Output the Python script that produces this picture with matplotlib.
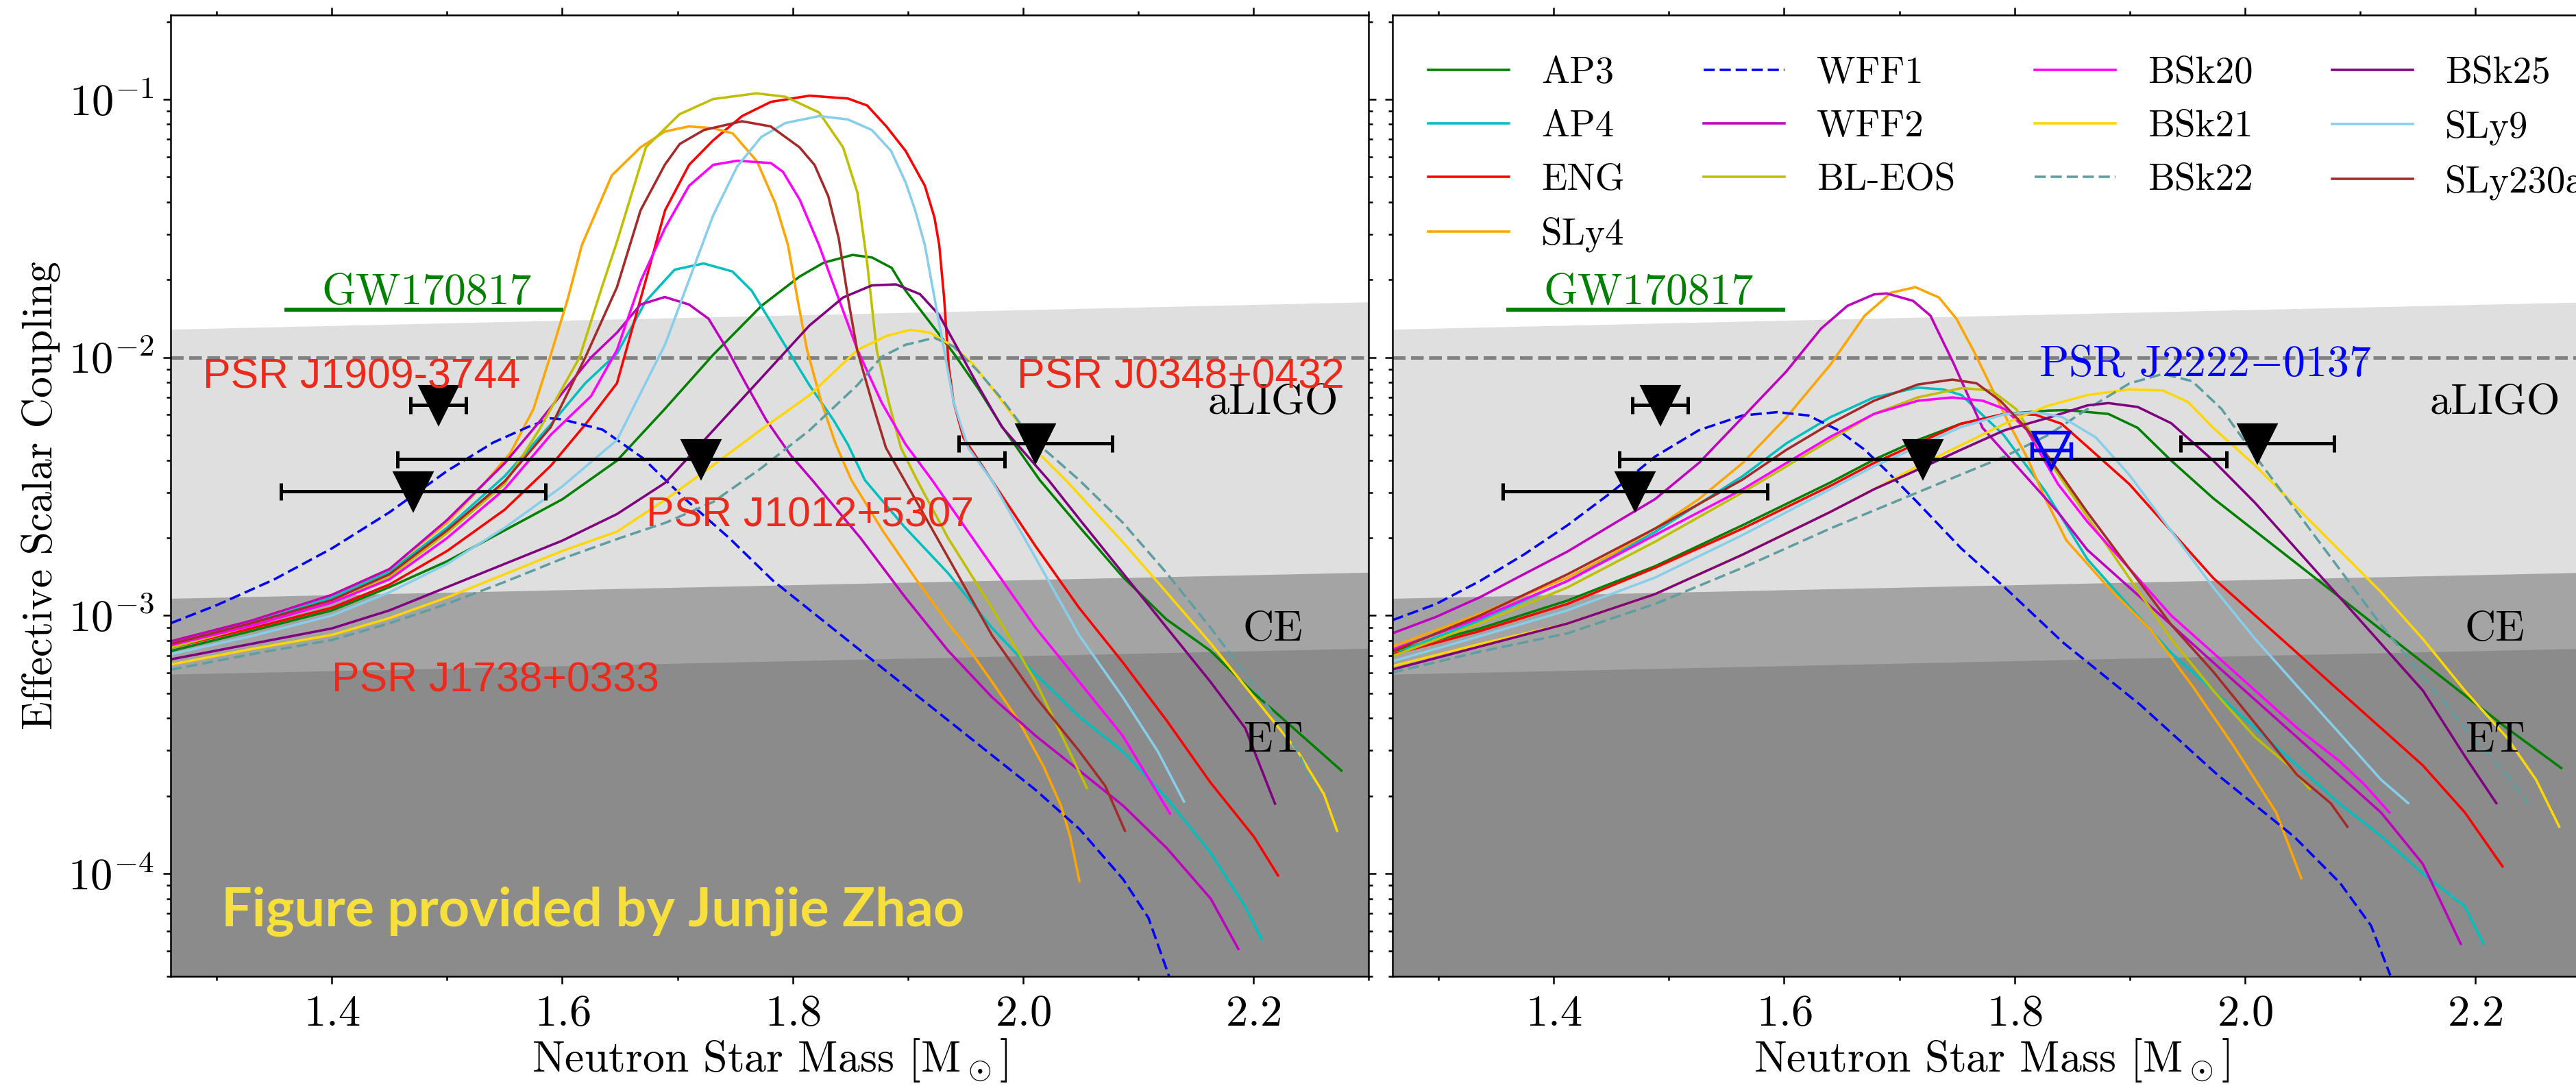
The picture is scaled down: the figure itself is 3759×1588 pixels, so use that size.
import numpy as np
import matplotlib.pyplot as plt
from matplotlib.ticker import MultipleLocator, LogLocator, NullFormatter

plt.rcParams['font.family'] = 'serif'
plt.rcParams['font.serif'] = ['cmr10']
plt.rcParams['mathtext.fontset'] = 'cm'
plt.rcParams['axes.formatter.use_mathtext'] = True

# ---- EOS curves: neutron star mass and log10 of the effective scalar coupling ----
eos_names = ['AP3', 'AP4', 'ENG', 'SLy4', 'WFF1', 'WFF2', 'BL-EOS',
             'BSk20', 'BSk21', 'BSk22', 'BSk25', 'SLy9', 'SLy230a']
eos_colors = ['green', 'c', 'r', 'orange', 'b', 'm', 'y',
              'fuchsia', 'gold', 'cadetblue', 'purple', 'skyblue', 'brown']
eos_dashed = [False, False, False, False, True, False, False,
              False, False, True, False, False, False]

# left panel
ap3_m_l = [1.26, 1.33, 1.40, 1.45, 1.50, 1.55, 1.60, 1.6475, 1.689, 1.731, 1.773, 1.806, 1.827, 1.852, 1.869, 1.886, 1.898, 1.919, 1.940, 1.961, 1.982, 2.0145, 2.0487, 2.0866, 2.1246, 2.1626, 2.2005, 2.2385, 2.2765]
ap3_c_l = [-3.138, -3.06, -2.98, -2.89, -2.79, -2.67, -2.55, -2.40, -2.20, -1.99, -1.80, -1.687, -1.633, -1.603, -1.613, -1.653, -1.741, -1.863, -1.985, -2.120, -2.269, -2.475, -2.655, -2.850, -3.015, -3.136, -3.301, -3.451, -3.601]
ap4_m_l = [1.26, 1.33, 1.40, 1.45, 1.50, 1.55, 1.59, 1.62, 1.6475, 1.6726, 1.6976, 1.7227, 1.7477, 1.7644, 1.7811, 1.7978, 1.8145, 1.8354, 1.848, 1.8627, 1.8968, 1.9348, 1.9727, 2.0107, 2.0487, 2.0866, 2.1246, 2.1626, 2.1929, 2.2074]
ap4_c_l = [-3.11, -3.03, -2.93, -2.83, -2.66, -2.46, -2.26, -2.10, -1.985, -1.782, -1.660, -1.636, -1.667, -1.741, -1.863, -1.985, -2.107, -2.242, -2.337, -2.475, -2.655, -2.835, -3.046, -3.226, -3.391, -3.526, -3.706, -3.917, -4.127, -4.255]
eng_m_l = [1.26, 1.33, 1.40, 1.45, 1.50, 1.55, 1.59, 1.62, 1.6475, 1.6726, 1.6893, 1.7101, 1.731, 1.7561, 1.7811, 1.8145, 1.848, 1.8647, 1.8814, 1.8981, 1.9148, 1.9231, 1.9273, 1.9315, 1.9356, 1.9398, 1.9482, 1.9727, 2.0107, 2.0487, 2.0866, 2.1246, 2.1626, 2.2005, 2.2214]
eng_c_l = [-3.125, -3.05, -2.97, -2.88, -2.75, -2.59, -2.42, -2.26, -2.10, -1.70, -1.43, -1.254, -1.159, -1.065, -1.010, -0.986, -0.997, -1.024, -1.105, -1.200, -1.335, -1.457, -1.565, -1.768, -2.039, -2.174, -2.310, -2.475, -2.730, -2.970, -3.181, -3.406, -3.646, -3.857, -4.007]
sly4_m_l = [1.26, 1.33, 1.40, 1.45, 1.50, 1.53, 1.555, 1.575, 1.59, 1.605, 1.617, 1.643, 1.668, 1.689, 1.71, 1.731, 1.748, 1.769, 1.785, 1.796, 1.804, 1.8125, 1.825, 1.8375, 1.851, 1.878, 1.908, 1.935, 1.954, 1.973, 1.996, 2.018, 2.033, 2.041, 2.049]
sly4_c_l = [-3.10, -3.02, -2.92, -2.82, -2.64, -2.50, -2.37, -2.20, -1.99, -1.77, -1.565, -1.295, -1.186, -1.125, -1.105, -1.112, -1.132, -1.24, -1.403, -1.565, -1.768, -1.971, -2.174, -2.337, -2.475, -2.670, -2.865, -3.030, -3.136, -3.256, -3.406, -3.586, -3.737, -3.857, -4.029]
wff1_m_l = [1.26, 1.30, 1.35, 1.40, 1.45, 1.50, 1.54, 1.57, 1.59, 1.60, 1.635, 1.67, 1.707, 1.745, 1.783, 1.859, 1.935, 2.011, 2.049, 2.087, 2.109, 2.127]
wff1_c_l = [-3.03, -2.96, -2.86, -2.74, -2.60, -2.44, -2.33, -2.27, -2.236, -2.24, -2.28, -2.39, -2.55, -2.70, -2.865, -3.136, -3.406, -3.676, -3.827, -4.022, -4.172, -4.40]
wff2_m_l = [1.26, 1.33, 1.40, 1.45, 1.50, 1.55, 1.58, 1.605, 1.625, 1.6475, 1.668, 1.689, 1.71, 1.727, 1.7435, 1.760, 1.777, 1.798, 1.817, 1.859, 1.897, 1.935, 1.973, 2.011, 2.049, 2.087, 2.125, 2.163, 2.187]
wff2_c_l = [-3.10, -3.02, -2.92, -2.82, -2.63, -2.41, -2.25, -2.11, -2.00, -1.904, -1.795, -1.766, -1.795, -1.85, -1.971, -2.107, -2.242, -2.377, -2.475, -2.70, -2.925, -3.136, -3.316, -3.466, -3.601, -3.737, -3.902, -4.097, -4.292]
bleos_m_l = [1.26, 1.33, 1.40, 1.45, 1.50, 1.55, 1.58, 1.615, 1.635, 1.6475, 1.6726, 1.7018, 1.731, 1.7686, 1.7937, 1.823, 1.8438, 1.8563, 1.8647, 1.873, 1.8835, 1.894, 1.908, 1.935, 1.973, 2.011, 2.037, 2.0555]
bleos_c_l = [-3.125, -3.04, -2.95, -2.85, -2.68, -2.49, -2.28, -2.00, -1.72, -1.552, -1.186, -1.058, -0.999, -0.977, -0.990, -1.051, -1.186, -1.362, -1.633, -1.971, -2.174, -2.350, -2.475, -2.700, -2.970, -3.256, -3.496, -3.669]
bsk20_m_l = [1.26, 1.33, 1.40, 1.45, 1.50, 1.55, 1.59, 1.625, 1.6475, 1.6684, 1.6893, 1.7101, 1.731, 1.7519, 1.7811, 1.7916, 1.8062, 1.8229, 1.8396, 1.8563, 1.8772, 1.8981, 1.921, 1.9727, 2.0107, 2.0487, 2.0866, 2.1276]
bsk20_c_l = [-3.115, -3.04, -2.95, -2.86, -2.70, -2.51, -2.30, -2.15, -1.971, -1.701, -1.498, -1.335, -1.254, -1.238, -1.247, -1.281, -1.389, -1.565, -1.768, -1.971, -2.174, -2.337, -2.475, -2.805, -3.046, -3.256, -3.466, -3.767]
bsk21_m_l = [1.26, 1.33, 1.40, 1.45, 1.50, 1.55, 1.60, 1.6475, 1.69, 1.731, 1.7725, 1.8145, 1.8563, 1.8814, 1.9022, 1.919, 1.9398, 1.9565, 1.9732, 1.9941, 2.015, 2.0371, 2.0866, 2.1246, 2.1626, 2.2005, 2.2385, 2.2613, 2.2727]
bsk21_c_l = [-3.19, -3.13, -3.075, -3.01, -2.93, -2.84, -2.75, -2.675, -2.55, -2.418, -2.28, -2.147, -1.971, -1.917, -1.893, -1.904, -1.958, -2.025, -2.120, -2.242, -2.377, -2.475, -2.715, -2.910, -3.106, -3.316, -3.526, -3.692, -3.834]
bsk22_m_l = [1.26, 1.33, 1.40, 1.45, 1.50, 1.55, 1.60, 1.65, 1.69, 1.731, 1.7725, 1.8145, 1.8563, 1.8772, 1.8981, 1.9231, 1.9398, 1.9607, 1.9816, 2.0066, 2.0488, 2.0866, 2.1246, 2.1626, 2.2005, 2.2385, 2.2537]
bsk22_c_l = [-3.21, -3.15, -3.095, -3.03, -2.955, -2.87, -2.78, -2.70, -2.64, -2.56, -2.43, -2.283, -2.107, -1.998, -1.951, -1.924, -1.958, -2.052, -2.161, -2.310, -2.475, -2.640, -2.835, -3.046, -3.271, -3.526, -3.676]
bsk25_m_l = [1.26, 1.33, 1.40, 1.45, 1.50, 1.55, 1.60, 1.6475, 1.6893, 1.731, 1.7728, 1.8145, 1.8438, 1.8688, 1.8897, 1.9106, 1.9273, 1.944, 1.9607, 1.9816, 2.0221, 2.0487, 2.0866, 2.1246, 2.1626, 2.1929, 2.2188]
bsk25_c_l = [-3.17, -3.11, -3.05, -2.98, -2.89, -2.80, -2.71, -2.607, -2.486, -2.283, -2.080, -1.877, -1.768, -1.721, -1.717, -1.755, -1.836, -1.971, -2.107, -2.269, -2.475, -2.625, -2.835, -3.046, -3.256, -3.436, -3.729]
sly9_m_l = [1.26, 1.33, 1.40, 1.45, 1.50, 1.55, 1.60, 1.6475, 1.6893, 1.7101, 1.731, 1.7519, 1.7728, 1.7937, 1.823, 1.848, 1.8688, 1.8855, 1.8981, 1.9064, 1.9148, 1.9231, 1.9315, 1.9398, 1.9524, 1.9727, 2.0107, 2.0487, 2.0866, 2.117, 2.1398]
sly9_c_l = [-3.15, -3.08, -3.00, -2.91, -2.80, -2.66, -2.50, -2.32, -1.95, -1.70, -1.45, -1.26, -1.146, -1.092, -1.065, -1.078, -1.119, -1.200, -1.322, -1.430, -1.565, -1.768, -1.971, -2.174, -2.350, -2.475, -2.775, -3.076, -3.316, -3.526, -3.721]
sly230a_m_l = [1.26, 1.33, 1.40, 1.45, 1.50, 1.55, 1.59, 1.62, 1.6475, 1.668, 1.689, 1.702, 1.723, 1.756, 1.781, 1.806, 1.819, 1.831, 1.840, 1.848, 1.856, 1.869, 1.881, 1.897, 1.935, 1.973, 2.011, 2.049, 2.0715, 2.0885]
sly230a_c_l = [-3.11, -3.03, -2.94, -2.84, -2.67, -2.48, -2.27, -2.00, -1.728, -1.430, -1.254, -1.173, -1.119, -1.085, -1.105, -1.186, -1.254, -1.376, -1.538, -1.768, -1.971, -2.174, -2.350, -2.475, -2.775, -3.076, -3.316, -3.526, -3.661, -3.834]

# right panel
ap3_m_r = [1.26, 1.336, 1.412, 1.488, 1.564, 1.640, 1.678, 1.716, 1.7535, 1.7915, 1.8295, 1.8451, 1.8815, 1.907, 1.9361, 1.9726, 2.009, 2.0454, 2.0818, 2.1182, 2.1546, 2.191, 2.2274, 2.2747]
ap3_c_r = [-3.139, -3.05, -2.942, -2.809, -2.650, -2.485, -2.396, -2.320, -2.257, -2.219, -2.206, -2.204, -2.219, -2.273, -2.400, -2.546, -2.673, -2.800, -2.927, -3.055, -3.182, -3.309, -3.436, -3.591]
ap4_m_r = [1.26, 1.336, 1.412, 1.488, 1.564, 1.602, 1.640, 1.678, 1.716, 1.738, 1.754, 1.7905, 1.827, 1.8633, 1.8997, 1.9361, 1.9726, 2.009, 2.0454, 2.0818, 2.1182, 2.1546, 2.191, 2.2074]
ap4_c_r = [-3.151, -3.018, -2.866, -2.676, -2.460, -2.333, -2.232, -2.155, -2.117, -2.124, -2.146, -2.30, -2.52, -2.782, -2.964, -3.145, -3.291, -3.436, -3.581, -3.727, -3.854, -4.000, -4.127, -4.272]
eng_m_r = [1.26, 1.336, 1.412, 1.488, 1.564, 1.640, 1.678, 1.716, 1.7535, 1.7915, 1.8181, 1.8408, 1.8633, 1.8997, 1.9361, 1.9726, 2.009, 2.0454, 2.0818, 2.1182, 2.1546, 2.191, 2.2237]
eng_c_r = [-3.151, -3.06, -2.955, -2.815, -2.663, -2.498, -2.409, -2.333, -2.257, -2.219, -2.222, -2.257, -2.346, -2.491, -2.673, -2.855, -3.000, -3.145, -3.291, -3.436, -3.581, -3.763, -3.972]
sly4_m_r = [1.26, 1.336, 1.412, 1.45, 1.488, 1.526, 1.564, 1.602, 1.640, 1.670, 1.693, 1.714, 1.7345, 1.7497, 1.7649, 1.7801, 1.7953, 1.8105, 1.827, 1.8451, 1.8815, 1.918, 1.9543, 1.9908, 2.0272, 2.0381, 2.049]
sly4_c_r = [-3.120, -2.993, -2.853, -2.764, -2.663, -2.549, -2.409, -2.232, -2.029, -1.838, -1.749, -1.728, -1.768, -1.851, -1.978, -2.117, -2.257, -2.384, -2.55, -2.709, -2.891, -3.054, -3.272, -3.509, -3.763, -3.890, -4.018]
wff1_m_r = [1.26, 1.298, 1.336, 1.374, 1.412, 1.450, 1.488, 1.526, 1.564, 1.594, 1.621, 1.647, 1.670, 1.689, 1.7156, 1.7535, 1.7915, 1.8425, 1.9092, 1.976, 2.0428, 2.0828, 2.1096, 2.1263]
wff1_c_r = [-3.018, -2.955, -2.866, -2.764, -2.650, -2.523, -2.384, -2.282, -2.225, -2.212, -2.225, -2.282, -2.358, -2.44, -2.561, -2.739, -2.891, -3.106, -3.346, -3.616, -3.857, -4.037, -4.202, -4.394]
wff2_m_r = [1.26, 1.298, 1.336, 1.374, 1.412, 1.45, 1.488, 1.526, 1.564, 1.602, 1.632, 1.655, 1.678, 1.689, 1.712, 1.727, 1.7468, 1.7723, 1.8087, 1.8378, 1.8633, 1.8997, 1.9361, 1.9726, 2.009, 2.0454, 2.0818, 2.1182, 2.1546, 2.1874]
wff2_c_r = [-3.069, -3.005, -2.929, -2.840, -2.752, -2.650, -2.549, -2.409, -2.232, -2.054, -1.889, -1.800, -1.756, -1.752, -1.781, -1.838, -2.02, -2.273, -2.455, -2.600, -2.746, -2.891, -3.036, -3.182, -3.327, -3.472, -3.618, -3.763, -3.963, -4.272]
bleos_m_r = [1.26, 1.336, 1.412, 1.488, 1.564, 1.602, 1.640, 1.678, 1.716, 1.754, 1.780, 1.8014, 1.827, 1.8633, 1.8997, 1.9361, 1.9726, 2.009, 2.038, 2.0563]
bleos_c_r = [-3.157, -3.03, -2.891, -2.714, -2.523, -2.422, -2.320, -2.219, -2.155, -2.119, -2.128, -2.20, -2.382, -2.618, -2.855, -3.091, -3.291, -3.472, -3.581, -3.672]
bsk20_m_r = [1.26, 1.336, 1.412, 1.488, 1.564, 1.602, 1.640, 1.678, 1.716, 1.746, 1.7725, 1.7915, 1.8105, 1.8378, 1.8633, 1.8997, 1.9361, 1.9726, 2.009, 2.0454, 2.0818, 2.1036, 2.1255]
bsk20_c_r = [-3.132, -3.01, -2.866, -2.688, -2.511, -2.409, -2.308, -2.219, -2.168, -2.155, -2.168, -2.20, -2.28, -2.491, -2.637, -2.818, -3.000, -3.145, -3.291, -3.436, -3.563, -3.654, -3.763]
bsk21_m_r = [1.26, 1.336, 1.412, 1.488, 1.564, 1.640, 1.716, 1.7915, 1.827, 1.8633, 1.8997, 1.9289, 1.9507, 1.9726, 2.009, 2.0454, 2.0818, 2.1182, 2.1546, 2.191, 2.2274, 2.2528, 2.2729]
bsk21_c_r = [-3.196, -3.11, -3.031, -2.917, -2.764, -2.599, -2.422, -2.257, -2.19, -2.146, -2.124, -2.128, -2.173, -2.273, -2.419, -2.582, -2.746, -2.909, -3.091, -3.291, -3.472, -3.636, -3.818]
bsk22_m_r = [1.26, 1.336, 1.412, 1.488, 1.564, 1.640, 1.716, 1.7915, 1.8295, 1.8633, 1.8997, 1.9289, 1.9543, 1.9798, 2.009, 2.0454, 2.0818, 2.1182, 2.1546, 2.191, 2.2274, 2.2456]
bsk22_c_r = [-3.221, -3.14, -3.069, -2.955, -2.815, -2.663, -2.523, -2.384, -2.30, -2.200, -2.101, -2.064, -2.092, -2.200, -2.382, -2.600, -2.818, -3.036, -3.236, -3.436, -3.618, -3.727]
bsk25_m_r = [1.26, 1.336, 1.412, 1.488, 1.564, 1.640, 1.678, 1.716, 1.7535, 1.7915, 1.827, 1.8633, 1.8815, 1.907, 1.9361, 1.9726, 2.009, 2.0454, 2.0818, 2.1182, 2.1546, 2.191, 2.2183]
bsk25_c_r = [-3.209, -3.12, -3.031, -2.917, -2.764, -2.599, -2.511, -2.435, -2.358, -2.282, -2.237, -2.186, -2.177, -2.192, -2.255, -2.400, -2.564, -2.746, -2.927, -3.109, -3.291, -3.545, -3.727]
sly9_m_r = [1.26, 1.336, 1.412, 1.488, 1.564, 1.640, 1.678, 1.716, 1.7535, 1.7915, 1.8181, 1.8408, 1.8706, 1.8997, 1.9361, 1.9726, 2.009, 2.0454, 2.0818, 2.1182, 2.1418]
sly9_c_r = [-3.177, -3.08, -2.980, -2.853, -2.688, -2.511, -2.422, -2.346, -2.270, -2.22, -2.213, -2.23, -2.310, -2.455, -2.673, -2.891, -3.091, -3.273, -3.454, -3.636, -3.727]
sly230a_m_r = [1.26, 1.336, 1.412, 1.488, 1.564, 1.602, 1.640, 1.678, 1.716, 1.746, 1.767, 1.7877, 1.8067, 1.827, 1.8633, 1.8997, 1.9361, 1.9726, 2.009, 2.0454, 2.0745, 2.089]
sly230a_c_r = [-3.139, -3.00, -2.840, -2.663, -2.473, -2.358, -2.257, -2.168, -2.105, -2.086, -2.10, -2.168, -2.257, -2.37, -2.600, -2.818, -3.036, -3.218, -3.418, -3.618, -3.727, -3.818]

mass_left = [ap3_m_l, ap4_m_l, eng_m_l, sly4_m_l, wff1_m_l, wff2_m_l, bleos_m_l,
             bsk20_m_l, bsk21_m_l, bsk22_m_l, bsk25_m_l, sly9_m_l, sly230a_m_l]
logc_left = [ap3_c_l, ap4_c_l, eng_c_l, sly4_c_l, wff1_c_l, wff2_c_l, bleos_c_l,
             bsk20_c_l, bsk21_c_l, bsk22_c_l, bsk25_c_l, sly9_c_l, sly230a_c_l]
mass_right = [ap3_m_r, ap4_m_r, eng_m_r, sly4_m_r, wff1_m_r, wff2_m_r, bleos_m_r,
              bsk20_m_r, bsk21_m_r, bsk22_m_r, bsk25_m_r, sly9_m_r, sly230a_m_r]
logc_right = [ap3_c_r, ap4_c_r, eng_c_r, sly4_c_r, wff1_c_r, wff2_c_r, bleos_c_r,
              bsk20_c_r, bsk21_c_r, bsk22_c_r, bsk25_c_r, sly9_c_r, sly230a_c_r]

# ---- detector sensitivity bands (upper edge at the two ends of the mass range) ----
band_mass = [1.26, 2.30]
aligo_edge = [1.285e-2, 1.64e-2]
ce_edge = [1.165e-3, 1.47e-3]
et_edge = [5.92e-4, 7.46e-4]

# ---- pulsar timing bounds ----
psr_labels = ['PSR J1909-3744', 'PSR J1738+0333', 'PSR J1012+5307', 'PSR J0348+0432']
psr_mass = [1.4925, 1.4705, 1.7207, 2.0107]
psr_mass_err = [0.024, 0.115, 0.2635, 0.0667]
psr_bound = [6.55e-3, 3.03e-3, 4.04e-3, 4.65e-3]
j2222_mass = 1.832
j2222_err = 0.017
j2222_bound = 4.36e-3

gw_mass = [1.3606, 1.599]
gw_bound = 1.535e-2
dash_level = 1e-2

red = '#ec2a1c'


def draw_panel(ax, masses, logcs):
    m = np.array(band_mass)
    ax.fill_between(m, 1e-6, aligo_edge, color='#dfdfdf', lw=0, zorder=0.2)
    ax.fill_between(m, 1e-6, ce_edge, color='#a4a4a4', lw=0, zorder=0.3)
    ax.fill_between(m, 1e-6, et_edge, color='#8b8b8b', lw=0, zorder=0.4)
    ax.axhline(dash_level, color='gray', ls='--', lw=1.2, zorder=0.8)

    for name, col, dashed, ms, lc in zip(eos_names, eos_colors, eos_dashed, masses, logcs):
        line, = ax.plot(ms, 10 ** np.array(lc), color=col, lw=0.85, label=name, zorder=2)
        if dashed:
            line.set_dashes((4.6, 2.0))

    ax.errorbar(psr_mass, psr_bound, xerr=psr_mass_err, fmt='v', color='k',
                ms=13, elinewidth=1.2, capsize=3, capthick=1.2, zorder=5)

    ax.plot(gw_mass, [gw_bound, gw_bound], color='green', lw=1.4, zorder=3)
    ax.text(1.482, 1.61e-2, 'GW170817', color='green', fontsize=15.3,
            ha='center', va='baseline', zorder=6)

    ax.text(2.274, 6.03e-3, 'aLIGO', fontsize=15, ha='right', va='baseline', zorder=6)
    ax.text(2.243, 7.98e-4, 'CE', fontsize=15, ha='right', va='baseline', zorder=6)
    ax.text(2.243, 2.97e-4, 'ET', fontsize=15, ha='right', va='baseline', zorder=6)

    ax.set_yscale('log')
    ax.set_xlim(1.26, 2.30)
    ax.set_ylim(4e-5, 0.212)
    ax.xaxis.set_major_locator(MultipleLocator(0.2))
    ax.xaxis.set_minor_locator(MultipleLocator(0.1))
    ax.yaxis.set_major_locator(LogLocator(base=10))
    ax.yaxis.set_minor_locator(LogLocator(base=10, subs=np.arange(2, 10)))
    ax.yaxis.set_minor_formatter(NullFormatter())
    ax.tick_params(which='both', direction='out', top=True, right=True,
                   width=0.6, labelsize=15.5)
    ax.tick_params(which='major', length=2.6, pad=3.2)
    ax.tick_params(which='minor', length=1.5)
    ax.tick_params(axis='x', which='major', pad=4)
    for sp in ax.spines.values():
        sp.set_linewidth(0.6)
    ax.set_xlabel(r'Neutron Star Mass [M$_\odot$]', fontsize=15.3, labelpad=0.5)


fig = plt.figure(figsize=(3759 / 300, 1588 / 300), dpi=300)
ax1 = fig.add_axes([249 / 3759, 1 - 1425 / 1588, 1748 / 3759, 1403 / 1588])
ax2 = fig.add_axes([2032 / 3759, 1 - 1425 / 1588, 1748 / 3759, 1403 / 1588])

draw_panel(ax1, mass_left, logc_left)
draw_panel(ax2, mass_right, logc_right)

ax1.set_ylabel('Effective Scalar Coupling', fontsize=14.8)
ax1.yaxis.set_label_coords(-0.092, 0.5)
ax2.tick_params(axis='y', which='both', labelleft=False)

# pulsar names on the left panel
psr_text_pos = [(1.4258, 7.60e-3), (1.5421, 5.08e-4), (1.8154, 2.21e-3), (2.1368, 7.60e-3)]
for lab, (xm, yv) in zip(psr_labels, psr_text_pos):
    ax1.text(xm, yv, lab, color=red, fontsize=14.6, family='Liberation Sans',
             ha='center', va='baseline', zorder=6)

ax1.text(1.304, 6.28e-5, 'Figure provided by Junjie Zhao', color='#f8e03c',
         fontsize=19, family='Lato', fontweight='bold', ha='left', va='baseline', zorder=6)

# PSR J2222-0137 on the right panel
ax2.errorbar([j2222_mass], [j2222_bound], xerr=[j2222_err], fmt='v', color='b',
             mfc='none', mec='b', mew=1.3, ms=12.5, elinewidth=1.3,
             capsize=3, capthick=1.3, zorder=6)
ax2.text(1.9653, 8.43e-3, r'PSR J2222$-$0137', color='b', fontsize=15.3,
         ha='center', va='baseline', zorder=6)

ax2.legend(loc='upper left', bbox_to_anchor=(0.0297, 0.957), ncol=4, frameon=False,
           fontsize=13.2, borderpad=0, borderaxespad=0, labelspacing=0.52,
           handlelength=2.15, handletextpad=0.85, columnspacing=2.1)

fig.savefig('out.png', dpi=300)
